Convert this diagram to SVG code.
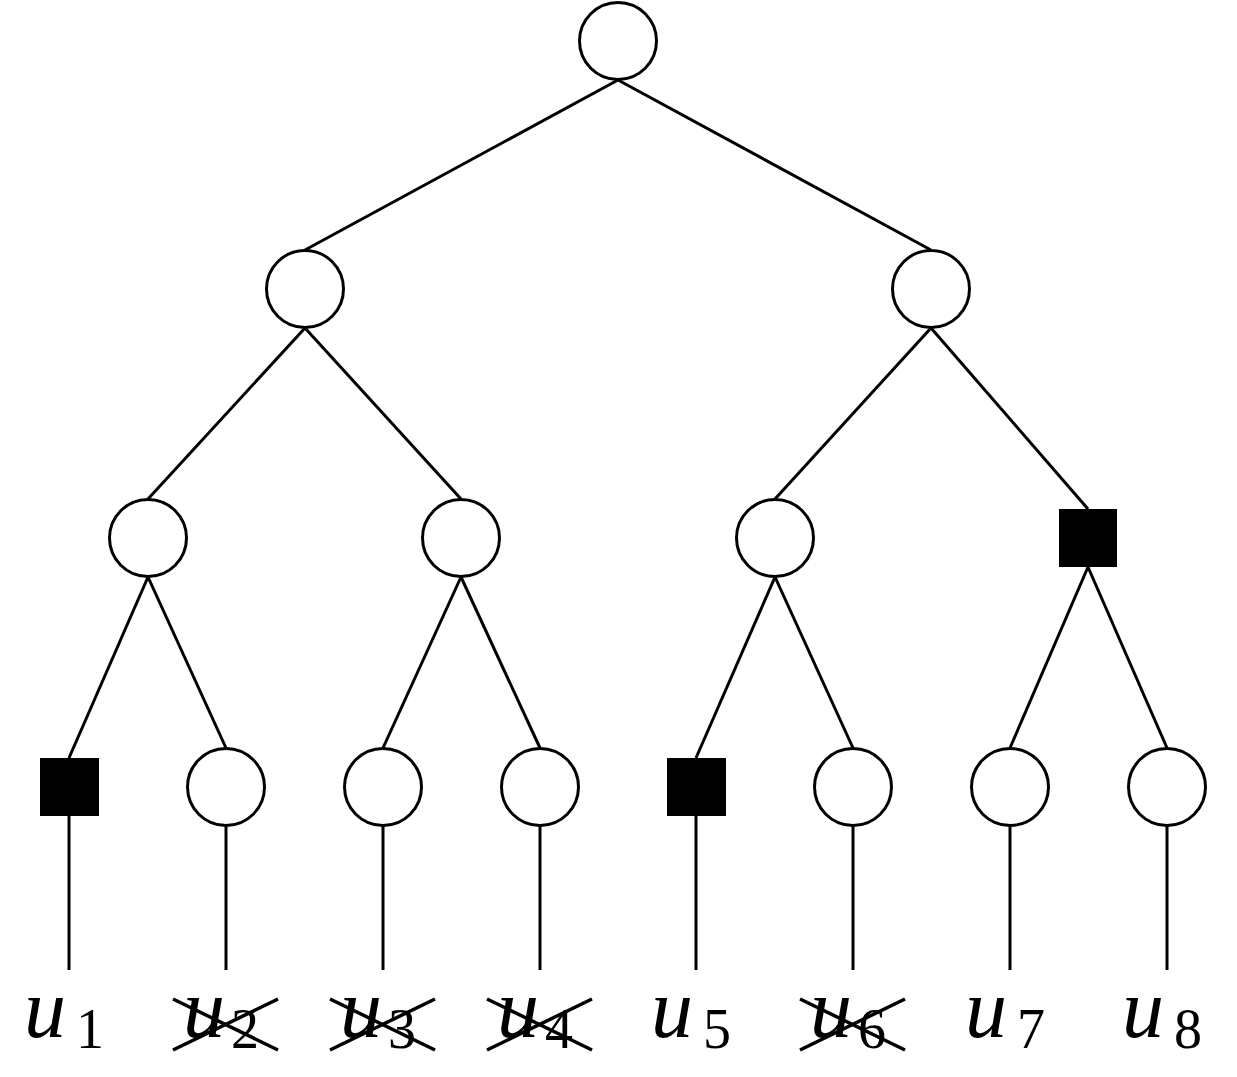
<svg xmlns="http://www.w3.org/2000/svg" width="1237" height="1077" viewBox="0 0 1237 1077">
<style>
.c{fill:#fff;stroke:#000;stroke-width:3}
.s{fill:#000}
.e{stroke:#000;stroke-width:3;fill:none}
.x{stroke:#000;stroke-width:3.5;fill:none}
.u{font-family:"Liberation Serif",serif;font-style:italic;font-size:84px;fill:#000}
.d{font-family:"Liberation Serif",serif;font-size:56px;fill:#000}
</style>
<rect width="1237" height="1077" fill="#fff"/>
<g id="edges">
<line class="e" x1="618" y1="80" x2="305" y2="250"/>
<line class="e" x1="618" y1="80" x2="931" y2="250"/>
<line class="e" x1="305" y1="328" x2="148" y2="499"/>
<line class="e" x1="305" y1="328" x2="461" y2="499"/>
<line class="e" x1="931" y1="328" x2="775" y2="499"/>
<line class="e" x1="931" y1="328" x2="1088" y2="509"/>
<line class="e" x1="148" y1="577" x2="69" y2="758"/>
<line class="e" x1="148" y1="577" x2="226" y2="748"/>
<line class="e" x1="461" y1="577" x2="383" y2="748"/>
<line class="e" x1="461" y1="577" x2="540" y2="748"/>
<line class="e" x1="775" y1="577" x2="696" y2="758"/>
<line class="e" x1="775" y1="577" x2="853" y2="748"/>
<line class="e" x1="1088" y1="567" x2="1010" y2="748"/>
<line class="e" x1="1088" y1="567" x2="1167" y2="748"/>
<line class="e" x1="69" y1="816" x2="69" y2="970"/>
<line class="e" x1="226" y1="826" x2="226" y2="970"/>
<line class="e" x1="383" y1="826" x2="383" y2="970"/>
<line class="e" x1="540" y1="826" x2="540" y2="970"/>
<line class="e" x1="696" y1="816" x2="696" y2="970"/>
<line class="e" x1="853" y1="826" x2="853" y2="970"/>
<line class="e" x1="1010" y1="826" x2="1010" y2="970"/>
<line class="e" x1="1167" y1="826" x2="1167" y2="970"/>
</g>
<g id="root"><circle class="c" cx="618" cy="41" r="38.5"/></g>
<g id="n1"><circle class="c" cx="305" cy="289" r="38.5"/></g>
<g id="n2"><circle class="c" cx="931" cy="289" r="38.5"/></g>
<g id="n3"><circle class="c" cx="148" cy="538" r="38.5"/></g>
<g id="n4"><circle class="c" cx="461" cy="538" r="38.5"/></g>
<g id="n5"><circle class="c" cx="775" cy="538" r="38.5"/></g>
<g id="n6"><rect class="s" x="1059" y="509" width="58" height="58"/></g>
<g id="l1"><rect class="s" x="40" y="758" width="59" height="58"/></g>
<g id="l2"><circle class="c" cx="226" cy="787" r="38.5"/></g>
<g id="l3"><circle class="c" cx="383" cy="787" r="38.5"/></g>
<g id="l4"><circle class="c" cx="540" cy="787" r="38.5"/></g>
<g id="l5"><rect class="s" x="667" y="758" width="59" height="58"/></g>
<g id="l6"><circle class="c" cx="853" cy="787" r="38.5"/></g>
<g id="l7"><circle class="c" cx="1010" cy="787" r="38.5"/></g>
<g id="l8"><circle class="c" cx="1167" cy="787" r="38.5"/></g>
<g id="label1"><text class="u" x="24" y="1037">u</text><text class="d" x="76" y="1048">1</text></g>
<g id="label2"><text class="u" x="183" y="1037">u</text><text class="d" x="231" y="1048">2</text>
<line class="x" x1="173" y1="999" x2="278" y2="1050"/><line class="x" x1="173" y1="1050" x2="278" y2="999"/></g>
<g id="label3"><text class="u" x="340" y="1037">u</text><text class="d" x="388" y="1048">3</text>
<line class="x" x1="330" y1="999" x2="435" y2="1050"/><line class="x" x1="330" y1="1050" x2="435" y2="999"/></g>
<g id="label4"><text class="u" x="497" y="1037">u</text><text class="d" x="545" y="1048">4</text>
<line class="x" x1="487" y1="999" x2="592" y2="1050"/><line class="x" x1="487" y1="1050" x2="592" y2="999"/></g>
<g id="label5"><text class="u" x="651" y="1037">u</text><text class="d" x="703" y="1048">5</text></g>
<g id="label6"><text class="u" x="810" y="1037">u</text><text class="d" x="858" y="1048">6</text>
<line class="x" x1="800" y1="999" x2="905" y2="1050"/><line class="x" x1="800" y1="1050" x2="905" y2="999"/></g>
<g id="label7"><text class="u" x="965" y="1037">u</text><text class="d" x="1017" y="1048">7</text></g>
<g id="label8"><text class="u" x="1122" y="1037">u</text><text class="d" x="1174" y="1048">8</text></g>
</svg>
